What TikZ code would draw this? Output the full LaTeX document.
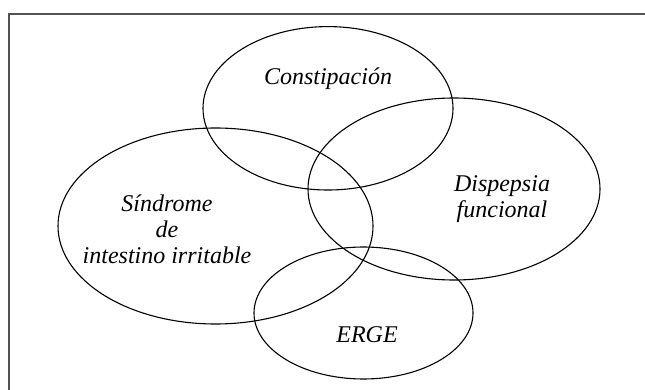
\documentclass[tikz,border=0pt]{standalone}
\usepackage{fontspec}
\setmainfont{Liberation Serif}
\begin{document}
\begin{tikzpicture}[x=1pt,y=-1pt,
  venn/.style={draw=black,line width=1.1pt},
  lbl/.style={font=\fontsize{24}{26}\selectfont\itshape,align=center,inner sep=0pt,anchor=base},
  frame/.style={draw=black!68,line width=2pt}]
\useasboundingbox (0,0) rectangle (645,390);
\draw[frame] (9.3,390) -- (9.3,14) -- (645,14);
\draw[venn] (328,108.3) ellipse [x radius=125, y radius=81.7];
\draw[venn] (454,189) ellipse [x radius=146, y radius=91];
\draw[venn] (215.5,226) ellipse [x radius=157.5, y radius=98];
\draw[venn] (363.5,313) ellipse [x radius=109.5, y radius=66];
\node[lbl] (con) at (328,85) {Constipación};
\node[lbl] (dis) at (502,218) {Dispepsia\\funcional};
\node[lbl] (sii) at (167,263) {Síndrome\\de\\intestino irritable};
\node[lbl] (erge) at (367,342.7) {ERGE};
\end{tikzpicture}
\end{document}
